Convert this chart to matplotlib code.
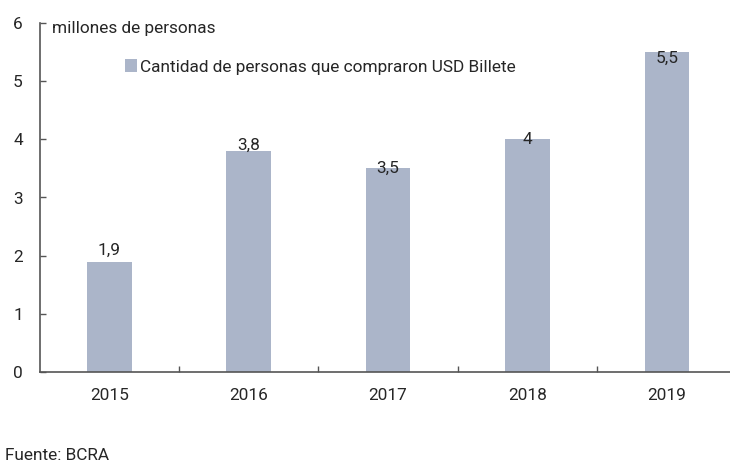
import matplotlib
matplotlib.use("Agg")
import matplotlib.pyplot as plt
from matplotlib.ticker import FixedLocator

years = ["2015", "2016", "2017", "2018", "2019"]
personas = [1.9, 3.8, 3.5, 4.0, 5.5]
value_labels = ["1,9", "3,8", "3,5", "4", "5,5"]
label_offsets = [0.2, 0.09, 0.0, 0.0, -0.11]
series_name = "Cantidad de personas que compraron USD Billete"
y_unit = "millones de personas"
source = "Fuente: BCRA"

W, H = 730, 461
plt.rcParams['font.family'] = ['Roboto', 'DejaVu Sans']
TEXT = '#262626'
BAR = '#abb5c9'
FS = 12.4

fig = plt.figure(figsize=(W / 100, H / 100), dpi=100)
left_px, right_px, top_px, bottom_px = 39.5, 730, 22.7, 372.3
ax = fig.add_axes([left_px / W, 1 - bottom_px / H,
                   (right_px - left_px) / W, (bottom_px - top_px) / H])

x = list(range(len(years)))
bars = ax.bar(x, personas, width=0.32, color=BAR, label=series_name, zorder=2)

for xi, v, lab, off in zip(x, personas, value_labels, label_offsets):
    ax.text(xi, v + off, lab, ha='center', va='center', fontsize=FS, color=TEXT, zorder=3)

ax.set_ylim(0, 6)
ax.set_xlim(-0.5, 4.453)
ax.set_yticks(range(0, 7))
ax.set_xticks(x)
ax.set_xticklabels(years)
ax.xaxis.set_minor_locator(FixedLocator([0.5, 1.5, 2.5, 3.5]))

for s in ['top', 'right']:
    ax.spines[s].set_visible(False)
for s in ['left', 'bottom']:
    ax.spines[s].set_color('#555555')
    ax.spines[s].set_linewidth(1.2)

ax.tick_params(axis='y', direction='in', length=4, width=1, color='#555555',
               pad=12, labelsize=FS, labelcolor=TEXT)
ax.tick_params(axis='x', which='major', length=0, pad=11, labelsize=FS, labelcolor=TEXT)
ax.tick_params(axis='x', which='minor', direction='in', length=4, width=1, color='#555555')

fig.text(52 / W, 1 - 33.5 / H, y_unit, fontsize=FS, color=TEXT, va='baseline', ha='left')

ax.legend(handles=[bars], labels=[series_name], loc='center left',
          bbox_to_anchor=(125 / W, 1 - 67 / H), bbox_transform=fig.transFigure,
          frameon=False, fontsize=FS, labelcolor=TEXT, borderpad=0, borderaxespad=0,
          handlelength=0.7, handleheight=0.7, handletextpad=0.15)

fig.text(5 / W, 1 - 459.5 / H, source, fontsize=FS, color=TEXT, va='baseline', ha='left')

fig.savefig('out.png', dpi=100)
